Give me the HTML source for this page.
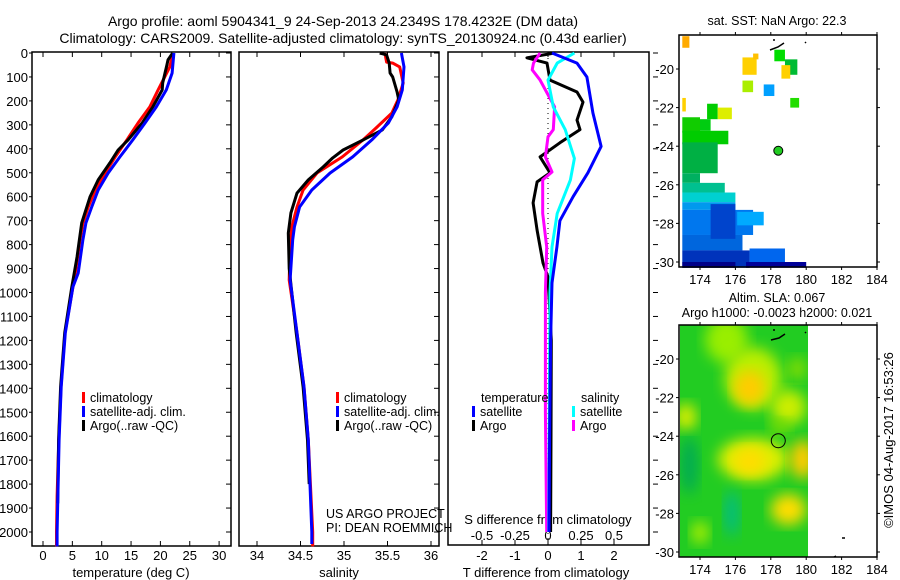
<!DOCTYPE html>
<html><head><meta charset="utf-8"><style>
html,body{margin:0;padding:0;background:#fff;}
svg{display:block;font-family:"Liberation Sans",sans-serif;}
text{fill:#000;}
</style></head><body>
<svg id="fig" width="900" height="580" viewBox="0 0 900 580" xmlns="http://www.w3.org/2000/svg">
<defs>
<filter id="blur" x="-20%" y="-20%" width="140%" height="140%"><feGaussianBlur stdDeviation="7"/></filter>
<clipPath id="slaClip"><rect x="680" y="325" width="128" height="232"/></clipPath>
</defs>
<g font-size="14" text-anchor="middle">
<text x="343" y="26">Argo profile: aoml 5904341_9 24-Sep-2013 24.2349S 178.4232E (DM data)</text>
<text x="343" y="43">Climatology: CARS2009. Satellite-adjusted climatology: synTS_20130924.nc (0.43d earlier)</text>
</g>
<g id="p1"></g>
<g id="p2"></g>
<g id="p3"></g>
<g id="m1"></g>
<g id="m2"></g>
<text x="893" y="440" font-size="13" text-anchor="middle" transform="rotate(-90 893 440)">©IMOS 04-Aug-2017 16:53:26</text>
</svg>
<script>
// ---- data ----
const tClimDepth=[0,58,154,225,292,363,434,501,572,643,710,780,919,1169,1394,1616,1850,2000,2060];
const tClimVal=[22.1,21.6,19.6,18.2,16.2,14.3,12.3,10.6,8.9,7.7,6.8,6.3,5.5,3.75,3.07,2.7,2.4,2.3,2.3];
const tSatDepth=[0,84,154,225,292,363,434,501,572,643,710,780,919,977,1169,1394,1616,2000,2060];
const tSatVal=[22.3,22.0,21.0,19.3,17.4,15.3,13.1,11.1,9.4,8.3,7.3,6.8,6.0,5.1,3.8,3.1,2.75,2.4,2.4];
const tArgoDepth=[0,29,50,125,154,225,292,363,405,459,530,601,710,852,977,1169,1394,1616,1880];
const tArgoVal=[22.1,21.3,21.1,20.4,20.3,18.7,16.9,14.5,12.8,11.4,9.4,8.0,6.6,5.8,4.9,3.7,3.0,2.65,2.5];
const sClimDepth=[0,38,42,58,125,196,251,309,363,434,501,572,643,726,800,948,1169,1394,1616,2000,2060];
const sClimVal=[35.47,35.49,35.56,35.64,35.68,35.62,35.55,35.38,35.22,34.98,34.69,34.53,34.46,34.40,34.38,34.37,34.46,34.54,34.59,34.64,34.64];
const sSatDepth=[0,58,154,225,292,363,434,501,572,643,726,780,948,1169,1394,1616,2000,2050];
const sSatVal=[35.66,35.69,35.67,35.61,35.51,35.32,35.10,34.84,34.63,34.49,34.43,34.41,34.38,34.46,34.54,34.59,34.63,34.63];
const sArgoDepth=[0,8,42,84,100,163,196,267,321,363,405,438,476,530,585,668,752,900,1169,1394,1616,1800];
const sArgoVal=[35.41,35.49,35.52,35.53,35.56,35.61,35.63,35.55,35.44,35.22,34.99,34.87,34.76,34.59,34.46,34.39,34.36,34.37,34.45,34.53,34.58,34.60];
const dtSatDepth=[0,42,100,250,390,500,600,700,810,960,1200,1600,2000];
const dtSatVal=[0.12,0.88,1.18,1.36,1.61,1.21,0.76,0.36,0.27,0.12,0.08,0.05,0.03];
const dtArgoDepth=[0,20,42,113,163,205,280,320,375,434,500,538,626,740,877,935,1200,1600,2000];
const dtArgoVal=[0.2,-0.64,-0.03,0.06,0.88,1.06,0.88,0.97,0.36,-0.24,0.06,-0.33,-0.45,-0.33,-0.15,0,0.1,0.09,0.08];
const dsSatDepth=[0,42,113,225,320,440,530,670,810,1000,1500,2000];
const dsSatVal=[0.2,0.07,0,0.04,0.13,0.2,0.17,0.07,0.03,0.015,0.01,0.005];
const dsArgoDepth=[0,42,70,113,225,320,350,434,497,530,670,810,1000,1500,2000];
const dsArgoVal=[-0.06,-0.11,-0.12,-0.06,0.05,0.04,0,-0.02,0.03,-0.04,-0.04,-0.01,-0.02,-0.02,-0.01];
const depthTicks=[0,100,200,300,400,500,600,700,800,900,1000,1100,1200,1300,1400,1500,1600,1700,1800,1900,2000];
const tTicks=[0,5,10,15,20,25,30];
const sTicks=[34,34.5,35,35.5,36];
const dtTicks=[-2,-1,0,1,2];
const dsTicks=[-0.5,-0.25,0,0.25,0.5];
const dsTickLabels=["-0.5","-0.25","0","0.25","0.5"];
const lonTicks=[174,176,178,180,182,184];
const latTicks=[-20,-22,-24,-26,-28,-30];
const argoLon=178.4232, argoLat=-24.2349;

// ---- helpers ----
const NS="http://www.w3.org/2000/svg";
function mk(parent,tag,attrs,txt){const e=document.createElementNS(NS,tag);for(const k in attrs)e.setAttribute(k,attrs[k]);if(txt!==undefined)e.textContent=txt;parent.appendChild(e);return e;}
const yD=d=>53+d*0.2395;
const xT=t=>43+t*5.87;
const xS=s=>257+(s-34)*87;
const xDT=v=>548+v*33;
const xDS=v=>548+v*132;
const lonX=l=>700+(l-174)*17.7;
const latY1=la=>69+(-20-la)*19.3;
const latY2=la=>359+(-20-la)*19.3;

function stepLine(g,depths,vals,xf,color,name){
  let pts=[];
  for(let i=0;i<depths.length;i++){pts.push(xf(vals[i]).toFixed(1)+","+yD(depths[i]).toFixed(1));}
  const p=mk(g,"polyline",{points:pts.join(" "),fill:"none",stroke:color,"stroke-width":3,"stroke-linejoin":"round"});
  
  
}
function frame(g,x0,x1,y0,y1){
  const r=mk(g,"rect",{x:x0,y:y0,width:x1-x0,height:y1-y0,fill:"none",stroke:"#000","stroke-width":1.5});
  
  
}
function legendEntry(g,x,y,color,label){
  const b=mk(g,"rect",{x:x,y:y-10,width:3,height:11,fill:color});
  
  
  const t=mk(g,"text",{x:x+8,y:y,"font-size":12.5},label);
  
  
}

// ---- panel 1 ----
const p1=document.getElementById("p1");
frame(p1,32,231,52,546);
depthTicks.forEach(d=>{
  const t=mk(p1,"text",{x:28,y:yD(d)+5,"font-size":13,"text-anchor":"end"},String(d));
  
  
  mk(p1,"line",{x1:29,x2:32,y1:yD(d),y2:yD(d),stroke:"#000"});
  mk(p1,"line",{x1:226,x2:231,y1:yD(d),y2:yD(d),stroke:"#000"});
});
tTicks.forEach(v=>{
  mk(p1,"line",{x1:xT(v),x2:xT(v),y1:52,y2:57,stroke:"#000"});
  mk(p1,"line",{x1:xT(v),x2:xT(v),y1:541,y2:546,stroke:"#000"});
  const t=mk(p1,"text",{x:xT(v),y:560,"font-size":13,"text-anchor":"middle"},String(v));
  
  
});
mk(p1,"text",{x:131,y:577,"font-size":13,"text-anchor":"middle"},"temperature (deg C)");
stepLine(p1,tClimDepth,tClimVal,xT,"#ff0000","temperature-climatology-line");
stepLine(p1,tArgoDepth,tArgoVal,xT,"#000000","temperature-argo-line");
stepLine(p1,tSatDepth,tSatVal,xT,"#0000ff","temperature-satellite-line");
legendEntry(p1,82,402,"#ff0000","climatology");
legendEntry(p1,82,416,"#0000ff","satellite-adj. clim.");
legendEntry(p1,82,430,"#000","Argo(..raw -QC)");

// ---- panel 2 ----
const p2=document.getElementById("p2");
frame(p2,239,439,52,546);
depthTicks.forEach(d=>{mk(p2,"line",{x1:434,x2:439,y1:yD(d),y2:yD(d),stroke:"#000"});});
sTicks.forEach(v=>{
  mk(p2,"line",{x1:xS(v),x2:xS(v),y1:52,y2:57,stroke:"#000"});
  mk(p2,"line",{x1:xS(v),x2:xS(v),y1:541,y2:546,stroke:"#000"});
  const t=mk(p2,"text",{x:xS(v),y:560,"font-size":13,"text-anchor":"middle"},String(v));
  
  
});
mk(p2,"text",{x:339,y:577,"font-size":13,"text-anchor":"middle"},"salinity");
stepLine(p2,sClimDepth,sClimVal,xS,"#ff0000","salinity-climatology-line");
stepLine(p2,sArgoDepth,sArgoVal,xS,"#000000","salinity-argo-line");
stepLine(p2,sSatDepth,sSatVal,xS,"#0000ff","salinity-satellite-line");
legendEntry(p2,336,402,"#ff0000","climatology");
legendEntry(p2,336,416,"#0000ff","satellite-adj. clim.");
legendEntry(p2,336,430,"#000","Argo(..raw -QC)");
mk(p2,"text",{x:326,y:518,"font-size":12.5},"US ARGO PROJECT");
mk(p2,"text",{x:326,y:532,"font-size":12.5},"PI: DEAN ROEMMICH");

// ---- panel 3 ----
const p3=document.getElementById("p3");
frame(p3,448,649,52,545);
depthTicks.forEach(d=>{mk(p3,"line",{x1:653,x2:658,y1:yD(d),y2:yD(d),stroke:"#000"});});
dtTicks.forEach(v=>{
  mk(p3,"line",{x1:xDT(v),x2:xDT(v),y1:52,y2:57,stroke:"#000"});
  mk(p3,"line",{x1:xDT(v),x2:xDT(v),y1:540,y2:545,stroke:"#000"});
  const t=mk(p3,"text",{x:xDT(v),y:560,"font-size":13,"text-anchor":"middle"},String(v));
  
  
});
dsTicks.forEach((v,i)=>{
  const t=mk(p3,"text",{x:xDS(v),y:540,"font-size":13,"text-anchor":"middle"},dsTickLabels[i]);
  
  
});
mk(p3,"text",{x:548,y:524,"font-size":13,"text-anchor":"middle"},"S difference from climatology");
mk(p3,"text",{x:546,y:577,"font-size":13,"text-anchor":"middle"},"T difference from climatology");
mk(p3,"line",{x1:xDT(0),x2:xDT(0),y1:53,y2:540,stroke:"#000","stroke-dasharray":"1,4"});
stepLine(p3,dtArgoDepth,dtArgoVal,xDT,"#000000","t-diff-argo-line");
stepLine(p3,dsArgoDepth,dsArgoVal,xDS,"#ff00ff","s-diff-argo-line");
stepLine(p3,dsSatDepth,dsSatVal,xDS,"#00ffff","s-diff-satellite-line");
stepLine(p3,dtSatDepth,dtSatVal,xDT,"#0000ff","t-diff-satellite-line");
mk(p3,"text",{x:481,y:402,"font-size":12.5},"temperature");
mk(p3,"text",{x:581,y:402,"font-size":12.5},"salinity");
legendEntry(p3,472,416,"#0000ff","satellite");
legendEntry(p3,472,430,"#000","Argo");
legendEntry(p3,572,416,"#00ffff","satellite");
legendEntry(p3,572,430,"#ff00ff","Argo");

// ---- maps ----
function mapAxes(g,y0,y1,latY){
  frame(g,679,877,y0,y1);
  lonTicks.forEach(l=>{
    mk(g,"line",{x1:lonX(l),x2:lonX(l),y1:y0-3,y2:y0,stroke:"#000"});
    mk(g,"line",{x1:lonX(l),x2:lonX(l),y1:y1,y2:y1+3,stroke:"#000"});
    const t=mk(g,"text",{x:lonX(l),y:y1+17,"font-size":13,"text-anchor":"middle"},String(l));
    
    
  });
  latTicks.forEach(la=>{
    mk(g,"line",{x1:676,x2:679,y1:latY(la),y2:latY(la),stroke:"#000"});
    mk(g,"line",{x1:877,x2:880,y1:latY(la),y2:latY(la),stroke:"#000"});
    const t=mk(g,"text",{x:674,y:latY(la)+5,"font-size":13,"text-anchor":"end"},String(la));
    
    
  });
}
const m1=document.getElementById("m1");
mk(m1,"text",{x:777,y:25,"font-size":12.5,"text-anchor":"middle"},"sat. SST: NaN Argo: 22.3");
// SST cells [lon0,lat0(top),lon1,lat1(bottom),color]
const sstCells=[
[173,-18.3,173.4,-18.9,"#ffaa00"],[176.4,-19.4,177.2,-20.3,"#ffd000"],[177.0,-19.2,177.3,-19.5,"#ffc000"],
[178.2,-19.0,178.8,-19.6,"#00dd00"],[178.8,-19.5,179.5,-20.3,"#00bb33"],[178.6,-19.8,179.1,-20.5,"#ffd000"],
[176.4,-20.6,177.0,-21.2,"#aaee00"],[177.6,-20.8,178.2,-21.4,"#00a0ff"],[179.1,-21.5,179.6,-22.0,"#22dd00"],
[173,-21.5,173.2,-22.2,"#ffd000"],[174.4,-21.8,175.0,-22.6,"#00cc00"],[175.0,-22.0,175.8,-22.6,"#ddee00"],
[173,-22.5,174.0,-23.3,"#11cc00"],[174.0,-22.6,174.6,-23.2,"#00cc11"],[173,-23.2,175.6,-23.9,"#00cc00"],
[173,-23.8,175.0,-25.4,"#00b044"],[173,-25.4,174.0,-25.9,"#00b060"],[173,-25.9,175.4,-26.4,"#00c090"],
[173,-26.4,176.0,-26.9,"#00d0d0"],[173,-26.9,176.0,-27.3,"#0099ee"],[173,-27.3,177.0,-28.6,"#0077ee"],
[176.1,-27.4,177.6,-28.1,"#00aaff"],[173,-28.6,176.4,-29.4,"#0066dd"],[173,-29.4,176.8,-30.3,"#0033bb"],
[176.8,-29.3,178.8,-30.0,"#0066ee"],[176.6,-30.0,180.0,-30.3,"#000099"],[173,-30.0,176.0,-30.3,"#000088"],[174.6,-27.0,176.0,-28.8,"#0044cc"]
];
sstCells.forEach(c=>{
  const r=mk(m1,"rect",{x:lonX(c[0]),y:latY1(c[1]),width:lonX(c[2])-lonX(c[0]),height:latY1(c[3])-latY1(c[1]),fill:c[4]});
  
  
});
mapAxes(m1,35,267,latY1);
mk(m1,"circle",{cx:lonX(argoLon),cy:latY1(argoLat),r:4.5,fill:"#22cc22",stroke:"#000","stroke-width":1});
mk(m1,"path",{d:"M770 50 l8 -3 l6 -4 M773 40 l2 0 M805 42 l1 1",stroke:"#000","stroke-width":1.5,fill:"none"});

const m2=document.getElementById("m2");
mk(m2,"text",{x:777,y:302,"font-size":12.5,"text-anchor":"middle"},"Altim. SLA: 0.067");
mk(m2,"text",{x:777,y:317,"font-size":12.5,"text-anchor":"middle"},"Argo h1000: -0.0023 h2000: 0.021");
const sla=mk(m2,"g",{"clip-path":"url(#slaClip)"});
mk(sla,"rect",{x:680,y:325,width:128,height:232,fill:"#22cc22"});
// SLA blobs [lon,lat,rx(deg),ry(deg),color]
const slaBlobs=[
[175.5,-19.0,1.2,1.2,"#99ee00"],[177.0,-21.0,1.6,1.6,"#bbee00"],[176.8,-21.5,0.9,0.9,"#ffcc00"],
[179.0,-22.5,1.0,0.9,"#ccee00"],[173.2,-23.0,0.6,0.7,"#ddee00"],[177.0,-25.2,2.0,1.1,"#ddee00"],
[176.8,-25.3,0.9,0.7,"#ffdd00"],[179.8,-25.2,0.7,1.0,"#ffcc00"],[179.0,-27.8,1.0,0.8,"#ffdd00"],
[175.8,-28.0,0.4,1.2,"#00bb88"],[173.4,-25.5,0.5,1.5,"#00aa55"],[174.0,-29.0,0.5,0.6,"#aaee00"],
[178.5,-23.5,0.6,0.4,"#77dd00"],[179.5,-20.5,0.5,0.6,"#88dd00"]
];
slaBlobs.forEach(b=>{
  const e=mk(sla,"ellipse",{cx:lonX(b[0]),cy:latY2(b[1]),rx:b[2]*17.7,ry:b[3]*19.3,fill:b[4],filter:"url(#blur)"});
  
  
});
mapAxes(m2,325,557,latY2);
mk(m2,"circle",{cx:lonX(argoLon),cy:latY2(argoLat),r:7,fill:"none",stroke:"#000","stroke-width":1});
mk(m2,"path",{d:"M771 340 l8 -2 l6 -4 M773 330 l2 0 M805 332 l1 1 M842 538 l3 0 M834 557 l2 -1",stroke:"#000","stroke-width":1.5,fill:"none"});
</script>
</body></html>
